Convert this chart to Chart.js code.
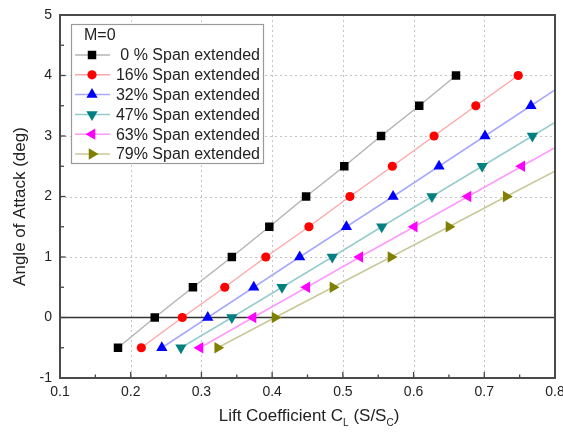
<!DOCTYPE html>
<html>
<head>
<meta charset="utf-8">
<title>Angle of Attack vs Lift Coefficient</title>
<script src="https://cdn.jsdelivr.net/npm/chart.js@4/dist/chart.umd.min.js"></script>
<style>
  html, body { margin: 0; padding: 0; background: #fff; }
  #wrap { width: 563px; height: 433px; }
</style>
</head>
<body>
<div id="wrap"><canvas id="liftChart" width="563" height="433"></canvas></div>
<script>
// 迎角（共通）
const aoa = [-0.5, 0, 0.5, 1, 1.5, 2, 2.5, 3, 3.5, 4];

// 揚力係数 CL（スパン延長率ごと）— 最後の値は枠外（線の延長のみ）
const cl0  = [0.182, 0.234, 0.288, 0.343, 0.396, 0.448, 0.502, 0.554, 0.608, 0.660];
const cl16 = [0.215, 0.273, 0.333, 0.391, 0.452, 0.510, 0.570, 0.629, 0.688, 0.748];
const cl32 = [0.244, 0.309, 0.374, 0.439, 0.505, 0.571, 0.636, 0.701, 0.766, 0.831];
const cl47 = [0.271, 0.343, 0.414, 0.485, 0.555, 0.626, 0.697, 0.768, 0.839];
const cl63 = [0.298, 0.373, 0.449, 0.524, 0.601, 0.677, 0.753, 0.829];
const cl79 = [0.323, 0.404, 0.486, 0.568, 0.650, 0.731, 0.813];

const seriesLabels = ['0 % Span extended', '16% Span extended', '32% Span extended',
                      '47% Span extended', '63% Span extended', '79% Span extended'];
const legendTitle = 'M=0';

const xTicks = [0.1, 0.2, 0.3, 0.4, 0.5, 0.6, 0.7, 0.8];
const yTicks = [-1, 0, 1, 2, 3, 4, 5];

// 表示スタイル
const markerColors = ['#000000', '#ff0000', '#0000ff', '#008080', '#ff00ff', '#808000'];
const lineColors   = ['#b4b4b4', '#ffa8a8', '#a8a8ff', '#98cccc', '#ff98ff', '#c8c898'];
const markerStyles = ['rect', 'circle', 'triangle', 'triangle', 'triangle', 'triangle'];
const markerRot    = [0, 0, 0, 180, -90, 90];
const markerRadius = [6, 4.6, 6.5, 6.5, 6.5, 6.5];

function toPoints(xs) {
    return xs.map((x, i) => ({ x: x, y: aoa[i] }));
}

const allSeries = [cl0, cl16, cl32, cl47, cl63, cl79];

const datasets = allSeries.map((xs, i) => ({
    label: seriesLabels[i],
    data: toPoints(xs),
    showLine: true,
    borderColor: lineColors[i],
    borderWidth: 1.5,
    backgroundColor: markerColors[i],
    pointBackgroundColor: markerColors[i],
    pointBorderColor: markerColors[i],
    pointBorderWidth: 0,
    pointStyle: markerStyles[i],
    pointRotation: markerRot[i],
    pointRadius: markerRadius[i],
    pointHoverRadius: markerRadius[i],
    clip: 0
}));

// マーカー描画（凡例用）
function drawMarker(ctx, style, x, y, r, rot, color) {
    ctx.save();
    ctx.fillStyle = color;
    ctx.beginPath();
    if (style === 'rect') {
        const s = Math.SQRT1_2 * r;
        ctx.rect(x - s, y - s, 2 * s, 2 * s);
    } else if (style === 'circle') {
        ctx.arc(x, y, r, 0, Math.PI * 2);
    } else {
        let rad = rot * Math.PI / 180;
        ctx.moveTo(x + Math.sin(rad) * r, y - Math.cos(rad) * r);
        rad += Math.PI * 2 / 3;
        ctx.lineTo(x + Math.sin(rad) * r, y - Math.cos(rad) * r);
        rad += Math.PI * 2 / 3;
        ctx.lineTo(x + Math.sin(rad) * r, y - Math.cos(rad) * r);
        ctx.closePath();
    }
    ctx.fill();
    ctx.restore();
}

// グリッド・ゼロ線（データの下）
const underlayPlugin = {
    id: 'underlay',
    beforeDatasetsDraw(chart) {
        const ctx = chart.ctx;
        const a = chart.chartArea;
        const xs = chart.scales.x, ys = chart.scales.y;
        ctx.save();
        ctx.strokeStyle = '#c4c4c4';
        ctx.lineWidth = 1;
        ctx.setLineDash([2, 3]);
        xTicks.slice(1, -1).forEach(v => {
            const px = Math.round(xs.getPixelForValue(v)) + 0.5;
            ctx.beginPath(); ctx.moveTo(px, a.top); ctx.lineTo(px, a.bottom); ctx.stroke();
        });
        yTicks.slice(1, -1).forEach(v => {
            if (v === 0) return;
            const py = Math.round(ys.getPixelForValue(v)) + 0.5;
            ctx.beginPath(); ctx.moveTo(a.left, py); ctx.lineTo(a.right, py); ctx.stroke();
        });
        ctx.setLineDash([]);
        // y=0 の実線
        const y0 = ys.getPixelForValue(0);
        ctx.strokeStyle = '#333';
        ctx.lineWidth = 1.6;
        ctx.beginPath(); ctx.moveTo(a.left, y0); ctx.lineTo(a.right, y0); ctx.stroke();
        ctx.restore();
    }
};

// 枠・目盛り・凡例・軸タイトル
const overlayPlugin = {
    id: 'overlay',
    afterDraw(chart) {
        const ctx = chart.ctx;
        const a = chart.chartArea;
        const xs = chart.scales.x, ys = chart.scales.y;
        ctx.save();

        // 目盛り（内向き）
        ctx.strokeStyle = '#444';
        ctx.lineWidth = 1.3;
        for (let v = 0.1; v <= 0.8001; v += 0.05) {
            const px = xs.getPixelForValue(v);
            const major = Math.abs(Math.round(v * 10) - v * 10) < 1e-6;
            const len = major ? 6 : 3.5;
            ctx.beginPath(); ctx.moveTo(px, a.bottom); ctx.lineTo(px, a.bottom - len); ctx.stroke();
        }
        for (let v = -1; v <= 5.001; v += 0.5) {
            const py = ys.getPixelForValue(v);
            const major = Math.abs(v - Math.round(v)) < 1e-6;
            const len = major ? 5.5 : 4;
            ctx.beginPath(); ctx.moveTo(a.left, py); ctx.lineTo(a.left + len, py); ctx.stroke();
        }

        // 枠
        ctx.strokeStyle = '#4a4a4a';
        ctx.lineWidth = 2;
        ctx.strokeRect(a.left, a.top, a.right - a.left, a.bottom - a.top);

        // 凡例
        const lx = 71, ly = 24, lw = 192, lh = 139;
        ctx.fillStyle = '#fff';
        ctx.fillRect(lx, ly, lw, lh);
        ctx.strokeStyle = '#9a9a9a';
        ctx.lineWidth = 1.2;
        ctx.strokeRect(lx + 0.5, ly + 0.5, lw, lh);

        ctx.font = '16px "Liberation Sans", Arial, sans-serif';
        ctx.fillStyle = '#222';
        ctx.textBaseline = 'middle';
        ctx.textAlign = 'left';
        ctx.fillText(legendTitle, 84, 36);
        chart.data.datasets.forEach((ds, i) => {
            const ry = 55 + i * 19.8;
            ctx.strokeStyle = lineColors[i];
            ctx.lineWidth = 1.5;
            ctx.beginPath(); ctx.moveTo(75, ry); ctx.lineTo(110, ry); ctx.stroke();
            drawMarker(ctx, markerStyles[i], 92, ry, markerRadius[i], markerRot[i], markerColors[i]);
            ctx.fillStyle = '#222';
            ctx.textAlign = 'right';
            ctx.fillText(ds.label, 260, ry + 1);
        });

        // y軸タイトル
        ctx.fillStyle = '#222';
        ctx.textAlign = 'center';
        ctx.textBaseline = 'middle';
        ctx.font = '17px "Liberation Sans", Arial, sans-serif';
        ctx.save();
        ctx.translate(20, (a.top + a.bottom) / 2 + 10);
        ctx.rotate(-Math.PI / 2);
        ctx.fillText('Angle of Attack (deg)', 0, 0);
        ctx.restore();

        // x軸タイトル（添字つき）
        const big = '17px "Liberation Sans", Arial, sans-serif';
        const small = '10px "Liberation Sans", Arial, sans-serif';
        const parts = [
            { t: 'Lift Coefficient C', f: big, dy: 0 },
            { t: 'L', f: small, dy: 5 },
            { t: ' (S/S', f: big, dy: 0 },
            { t: 'C', f: small, dy: 5 },
            { t: ')', f: big, dy: 0 }
        ];
        let total = 0;
        parts.forEach(p => { ctx.font = p.f; total += ctx.measureText(p.t).width; });
        let x = 309 - total / 2;
        const base = 421;
        ctx.textAlign = 'left';
        ctx.textBaseline = 'alphabetic';
        parts.forEach(p => {
            ctx.font = p.f;
            ctx.fillText(p.t, x, base + p.dy);
            x += ctx.measureText(p.t).width;
        });

        ctx.restore();
    }
};

new Chart(document.getElementById('liftChart'), {
    type: 'scatter',
    data: { datasets: datasets },
    options: {
        responsive: false,
        devicePixelRatio: 1,
        animation: false,
        events: [],
        layout: { padding: { top: 15, right: 8, left: 0, bottom: 0 } },
        plugins: {
            legend: { display: false },
            tooltip: { enabled: false },
            title: { display: false }
        },
        scales: {
            x: {
                type: 'linear',
                min: xTicks[0],
                max: xTicks[xTicks.length - 1],
                afterBuildTicks: (scale) => { scale.ticks = xTicks.map(v => ({ value: v })); },
                afterFit: (scale) => { scale.height = 55; scale.paddingLeft = 0; scale.paddingRight = 0; },
                grid: { display: false, drawTicks: false },
                border: { display: false },
                ticks: {
                    padding: 6,
                    color: '#222',
                    font: { family: '"Liberation Sans", Arial, sans-serif', size: 14 },
                    callback: (v) => Number(v).toFixed(1)
                }
            },
            y: {
                type: 'linear',
                min: yTicks[0],
                max: yTicks[yTicks.length - 1],
                afterBuildTicks: (scale) => { scale.ticks = yTicks.map(v => ({ value: v })); },
                afterFit: (scale) => { scale.width = 60; scale.paddingTop = 0; scale.paddingBottom = 0; },
                grid: { display: false, drawTicks: false },
                border: { display: false },
                ticks: {
                    padding: 8,
                    color: '#222',
                    font: { family: '"Liberation Sans", Arial, sans-serif', size: 14 },
                    callback: (v) => String(v)
                }
            }
        }
    },
    plugins: [underlayPlugin, overlayPlugin]
});
</script>
</body>
</html>
